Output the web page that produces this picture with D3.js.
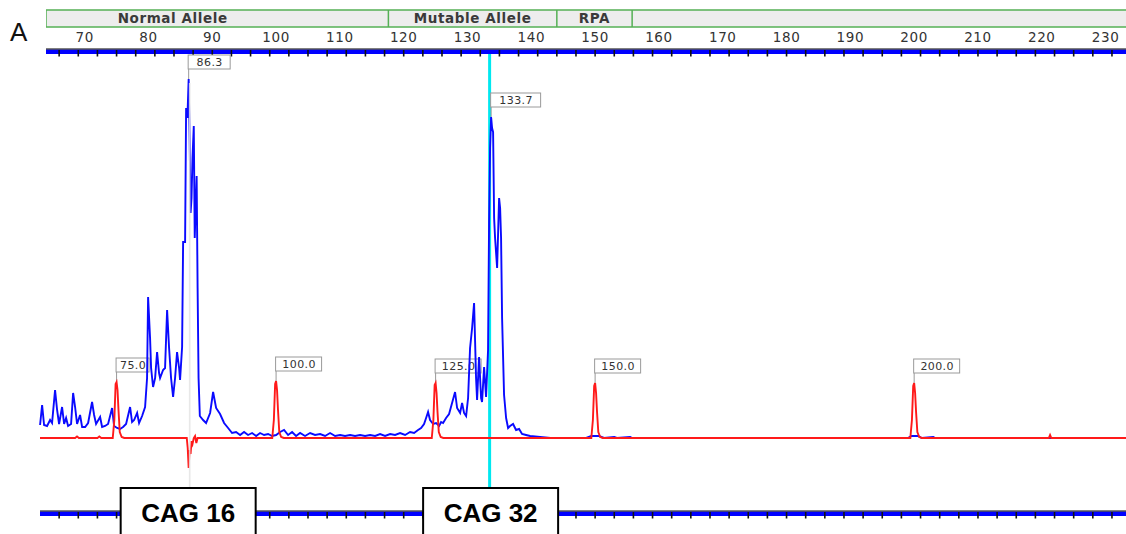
<!DOCTYPE html>
<html>
<head>
<meta charset="utf-8">
<script src="https://cdn.jsdelivr.net/npm/d3@7"></script>
<style>
  html, body { margin: 0; padding: 0; background: #fff; }
  svg { display: block; }
</style>
</head>
<body>
<svg id="chart" width="1126" height="534"></svg>
<script>
// Fragment sizes (bp) shown on the size ruler
const sizeTicks = d3.range(70, 231, 10);
const rulerTicks = d3.range(63, 234, 3);

// Bin panel along the top
const binNames = ["Normal Allele", "Mutable Allele", "RPA", ""];
const binStart = [50, 117.6, 144.0, 155.8];
const binEnd = [117.6, 144.0, 155.8, 240];

// Sample trace (blue): size in bp and signal (RFU)
const sampleBp = [
  63.01, 63.33, 63.64, 64.11, 64.58, 64.89, 65.36, 65.68, 65.99, 66.46, 66.78, 67.09, 67.40, 67.87,
  68.19, 68.50, 68.81, 69.28, 69.60, 70.07, 70.54, 71.16, 71.48, 71.79, 72.42, 72.73, 73.20, 73.67,
  74.30, 74.61, 75.08, 75.55, 76.02, 76.49, 77.12, 77.43, 77.75, 78.22, 78.53, 79.00, 79.47, 79.78,
  79.94, 80.25, 80.41, 80.72, 81.04, 81.35, 81.66, 81.82, 82.29, 82.60, 82.92, 83.23, 83.54, 83.86,
  84.17, 84.48, 84.80, 84.95, 85.27, 85.43, 85.74, 85.90, 86.10, 86.30, 86.45, 86.60, 86.75, 86.90,
  87.10, 87.25, 87.55, 87.70, 87.85, 88.05, 88.56, 89.03, 89.66, 90.13, 90.60, 91.22, 91.85, 92.48,
  93.10, 93.73, 94.36, 94.98, 95.61, 96.24, 96.87, 97.49, 98.12, 98.75, 99.37, 100.00, 100.63, 101.25,
  101.88, 102.51, 103.13, 103.76, 104.54, 105.33, 106.11, 106.90, 107.68, 108.46, 109.25, 110.03,
  110.81, 111.60, 112.38, 113.16, 113.95, 114.73, 115.52, 116.30, 117.08, 117.87, 118.65, 119.43,
  120.22, 121.00, 121.63, 122.25, 122.72, 123.19, 123.51, 123.82, 124.13, 124.61, 125.08, 125.55,
  125.86, 126.17, 126.64, 127.11, 127.58, 128.05, 128.37, 128.84, 129.15, 129.46, 129.78, 130.09,
  130.40, 130.72, 131.03, 131.34, 131.50, 131.81, 132.13, 132.28, 132.60, 132.91, 133.22, 133.38,
  133.54, 133.70, 133.85, 134.01, 134.17, 134.32, 134.64, 134.95, 135.11, 135.26, 135.42, 135.73,
  136.05, 136.36, 136.67, 137.14, 137.61, 138.08, 138.55, 139.18, 139.81, 141.37, 143.0, 148.6,
  149.4, 150.6, 151.4, 153.0, 153.4, 155.5, 155.8, 199.0, 199.6, 200.6, 201.2, 203.0, 203.3, 233.2
];
const sampleRfu = [
  130, 330, 130, 120, 180, 150, 480, 280, 140, 310, 140, 200, 120, 140,
  450, 310, 140, 230, 110, 110, 150, 360, 230, 140, 210, 110, 120, 140,
  300, 120, 100, 90, 110, 140, 310, 160, 180, 250, 150, 220, 310, 600,
  1410, 1000, 700, 510, 600, 860, 650, 600, 680, 700, 1280, 900, 600, 410,
  600, 860, 700, 580, 910, 1960, 1960, 3300, 3200, 3590, 3000, 2250, 2400, 2800,
  3120, 2000, 2620, 1500, 600, 220, 180, 150, 250, 460, 300, 240, 150, 100,
  50, 60, 30, 60, 30, 50, 20, 50, 30, 40, 20, 30, 60, 80,
  30, 60, 20, 50, 20, 50, 30, 40, 20, 50, 20, 30,
  20, 30, 20, 30, 20, 30, 20, 40, 20, 40, 30, 50,
  30, 60, 50, 80, 100, 140, 200, 260, 180, 140, 150, 120,
  160, 150, 200, 240, 350, 460, 300, 250, 350, 250, 220, 400,
  900, 1100, 1350, 600, 380, 810, 400, 360, 710, 410, 880, 2150,
  2900, 3210, 3100, 3060, 2200, 2000, 1700, 2400, 2300, 2000, 1200, 430,
  200, 100, 120, 140, 80, 90, 40, 30, 20, 10, 0, 0,
  20, 20, 0, 10, 0, 10, 0, 0, 20, 20, 0, 10, 0, 0
];

// Size standard trace (red)
const standardBp = [
  63.0, 68.5, 68.8, 69.1, 72.0, 72.3, 72.6, 74.4, 74.65, 74.85, 75.0, 75.15, 75.3, 75.5, 75.8,
  76.2, 86.0, 86.15, 86.3, 86.45, 86.6, 86.75, 86.9, 87.1, 87.3, 87.5, 87.7, 99.4, 99.65, 99.85,
  100.0, 100.15, 100.3, 100.5, 100.8, 101.2, 124.4, 124.65, 124.85, 125.0, 125.15, 125.3, 125.5,
  125.8, 126.2, 149.4, 149.65, 149.85, 150.0, 150.15, 150.3, 150.5, 150.8, 151.2, 199.4, 199.65,
  199.85, 200.0, 200.15, 200.3, 200.5, 200.8, 201.2, 221.1, 221.3, 221.5, 233.2
];
const standardRfu = [
  0, 0, 15, 0, 0, 15, 0, 0, 180, 540, 560, 480, 280, 60, 10,
  0, 0, -100, -300, -120, -160, -30, -60, 0, 20, -50, 0, 0, 180, 540,
  570, 480, 280, 60, 10, 0, 0, 180, 530, 550, 450, 260, 60,
  10, 0, 0, 180, 520, 550, 450, 260, 60, 10, 0, 0, 180,
  520, 550, 450, 260, 60, 10, 0, 0, 30, 0, 0
];

// Peak labels
const standardPeaks = [75.0, 100.0, 125.0, 150.0, 200.0];
const standardPeakRfu = [560, 570, 550, 550, 550];
const allelePeaks = [86.3, 133.7];
const allelePeakRfu = [3590, 3210];
const alleleNames = ["CAG 16", "CAG 32"];

const svg = d3.select("#chart");

const x = d3.scaleLinear().domain([63, 233.2]).range([40, 1126]);
const y = d3.scaleLinear().domain([0, 3600]).range([438, 78]);

// Panel letter
svg.append("text")
  .attr("x", 10).attr("y", 41)
  .attr("font-family", "Liberation Sans, Arial, sans-serif")
  .attr("font-size", 26)
  .attr("fill", "#111")
  .text("A");

// Bin panel
const binG = svg.append("g");
binG.append("defs").append("clipPath").attr("id", "binClip")
  .append("rect").attr("x", 46).attr("y", 0).attr("width", 1100).attr("height", 40);
const bins = binG.append("g").attr("clip-path", "url(#binClip)");
bins.append("rect")
  .attr("x", 46).attr("y", 10).attr("width", 1100).attr("height", 17)
  .attr("fill", "#ededed").attr("stroke", "#55b055").attr("stroke-width", 1.5);
bins.selectAll("line.div")
  .data(binStart.slice(1))
  .join("line")
  .attr("x1", d => x(d)).attr("x2", d => x(d))
  .attr("y1", 10).attr("y2", 27)
  .attr("stroke", "#55b055").attr("stroke-width", 1.5);
bins.selectAll("text")
  .data(binNames.map((n, i) => ({ n, a: binStart[i], b: binEnd[i] })).filter(d => d.n))
  .join("text")
  .attr("x", d => x((d.a + d.b) / 2))
  .attr("y", 23)
  .attr("text-anchor", "middle")
  .attr("font-family", "DejaVu Sans, sans-serif")
  .attr("font-weight", "bold")
  .attr("font-size", 13.5)
  .attr("letter-spacing", 0.6)
  .attr("fill", "#3a3a3a")
  .text(d => d.n);

// Size labels
svg.append("g").selectAll("text")
  .data(sizeTicks)
  .join("text")
  .attr("x", d => x(d))
  .attr("y", 42)
  .attr("text-anchor", "middle")
  .attr("font-family", "DejaVu Sans, sans-serif")
  .attr("font-size", 13.5)
  .attr("letter-spacing", 0.6)
  .attr("fill", "#333")
  .text(d => d);

// Ruler bar drawn with tick marks
function ruler(yPos, x0) {
  const g = svg.append("g");
  g.append("rect")
    .attr("x", x0).attr("y", yPos - 2.5).attr("width", 1126 - x0).attr("height", 4.5)
    .attr("fill", "#0000ff");
  g.append("line")
    .attr("x1", x0).attr("x2", 1126).attr("y1", yPos - 3).attr("y2", yPos - 3)
    .attr("stroke", "#000").attr("stroke-width", 1);
  g.selectAll("line.t")
    .data(rulerTicks.filter(d => x(d) > x0))
    .join("line")
    .attr("x1", d => x(d)).attr("x2", d => x(d))
    .attr("y1", yPos - 2).attr("y2", yPos + 4.5)
    .attr("stroke", "#111").attr("stroke-width", 1.6);
  return g;
}
ruler(52, 46);

// Peak label boxes
function peakLabel(bp, rfu, text, w) {
  const px = x(bp), py = y(rfu);
  const g = svg.append("g");
  g.append("line")
    .attr("x1", px).attr("x2", px).attr("y1", py).attr("y2", py - 10)
    .attr("stroke", "#999").attr("stroke-width", 1);
  g.append("rect")
    .attr("x", px - 0.5).attr("y", py - 24).attr("width", w).attr("height", 14)
    .attr("fill", "#fff").attr("stroke", "#9a9a9a").attr("stroke-width", 1);
  g.append("text")
    .attr("x", px + w / 2).attr("y", py - 13)
    .attr("text-anchor", "middle")
    .attr("font-family", "DejaVu Sans, sans-serif")
    .attr("font-size", 11)
    .attr("letter-spacing", 0.4)
    .attr("fill", "#333")
    .text(text);
}
standardPeaks.forEach((d, i) => {
  peakLabel(d, standardPeakRfu[i], d.toFixed(1), d >= 100 ? 46 : 33);
});

const line = d3.line().x(d => x(d[0])).y(d => y(d[1]));

// Cyan cursor at the expanded allele
svg.append("line")
  .attr("x1", x(allelePeaks[1]) - 1.5).attr("x2", x(allelePeaks[1]) - 1.5)
  .attr("y1", 54).attr("y2", 488)
  .attr("stroke", "#00e8f0").attr("stroke-width", 3);

// Sample trace
svg.append("path")
  .datum(d3.zip(sampleBp, sampleRfu))
  .attr("d", line)
  .attr("fill", "none")
  .attr("stroke", "#0a0aff")
  .attr("stroke-width", 1.9)
  .attr("stroke-linejoin", "miter");

// Size standard trace
svg.append("path")
  .datum(d3.zip(standardBp, standardRfu))
  .attr("d", line)
  .attr("fill", "none")
  .attr("stroke", "#ff1a1a")
  .attr("stroke-width", 1.9);

// Grey cursor at the normal allele
svg.append("line")
  .attr("x1", x(allelePeaks[0]) + 1).attr("x2", x(allelePeaks[0]) + 1)
  .attr("y1", y(allelePeakRfu[0]) + 4).attr("y2", 488)
  .attr("stroke", "#e4e4e4").attr("stroke-width", 1.6)
  .attr("opacity", 0.85);

// Allele size labels
allelePeaks.forEach((d, i) => {
  peakLabel(d, allelePeakRfu[i], d.toFixed(1), i === 0 ? 42 : 50);
});

// Lower ruler
ruler(514, 40);

// Allele call boxes
const calls = svg.append("g").selectAll("g")
  .data(allelePeaks.map((d, i) => ({ bp: d, name: alleleNames[i] })))
  .join("g");
calls.append("rect")
  .attr("x", d => x(d.bp) - 68).attr("y", 488)
  .attr("width", 135).attr("height", 52)
  .attr("fill", "#fff").attr("stroke", "#000").attr("stroke-width", 2);
calls.append("text")
  .attr("x", d => x(d.bp) - 0.5).attr("y", 522)
  .attr("text-anchor", "middle")
  .attr("font-family", "Liberation Sans, Arial, sans-serif")
  .attr("font-weight", "bold")
  .attr("font-size", 26)
  .attr("fill", "#000")
  .text(d => d.name);
</script>
</body>
</html>
